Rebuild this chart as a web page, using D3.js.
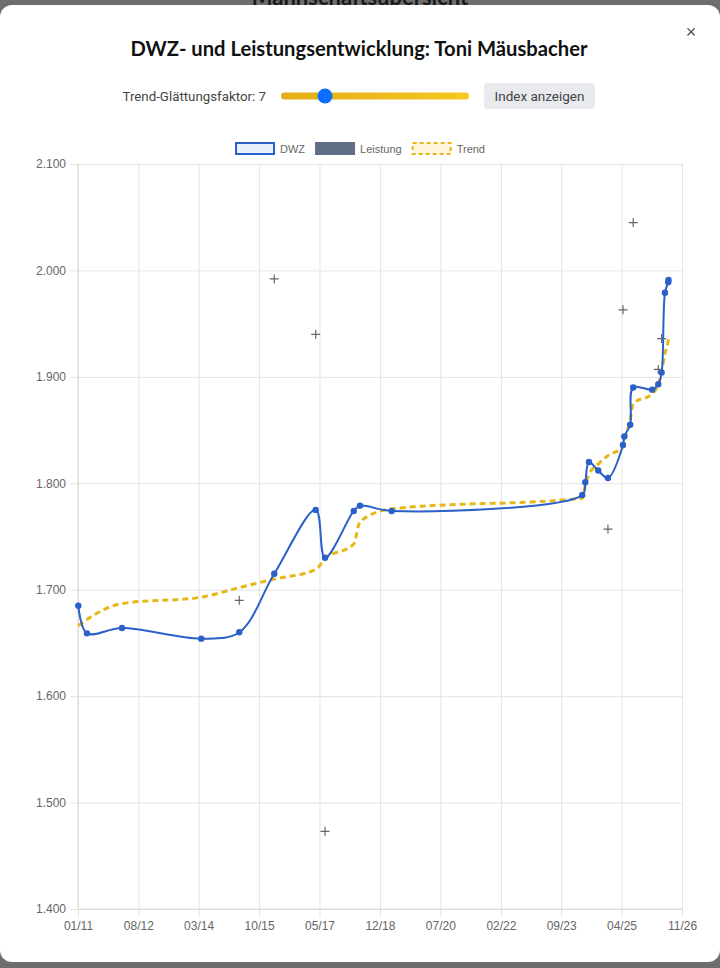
<!DOCTYPE html>
<html>
  <head>
    <meta charset="utf-8">
    <style>
      html, body {
        margin: 0;
        padding: 0;
        background-color: #6e6e6e;
        overflow: hidden;
      }
      svg { display: block; }
      .tick text { font-family: "Liberation Sans", Arial, sans-serif; font-size: 12px; fill: #666; }
    </style>
  </head>
  <body>
    <svg width="720" height="968"></svg>
    <script src="https://d3js.org/d3.v7.min.js"></script>
    <script>
    // DWZ history (Chart.js style modal)
    var dates = ["2011-01-04","2011-03-28","2012-02-26","2014-03-26","2015-03-25","2016-02-23",
                 "2017-03-26","2017-06-23","2018-03-25","2018-05-24","2019-03-23","2024-03-21",
                 "2024-04-19","2024-05-24","2024-08-21","2024-11-22","2025-04-15","2025-04-28",
                 "2025-06-23","2025-07-22","2026-01-20","2026-03-19","2026-04-20","2026-05-22",
                 "2026-06-22","2026-06-25"];
    var dwz = [1685,1659,1664,1654,1660,1715,1775,1730,1774,1779,1774,1789,
               1801,1820,1812,1805,1836,1844,1855,1890,1888,1893,1904,1979,1989,1991];
    var trend = [1666,1672,1687,1693,1702,1710,1719,1729,1743,1764,1776,1786,
                 1798,1808,1818,1826,1834,1840,1860,1875,1884,1893,1905,1922,1934,1936];

    var leistungDates = ["2015-03-25","2016-02-23","2017-03-26","2017-06-23","2024-11-22",
                         "2025-04-15","2025-07-22","2026-03-19","2026-04-20"];
    var leistung = [1690,1992,1940,1473,1757,1963,2045,1907,1936];

    var xTickLabels = ["01/11","08/12","03/14","10/15","05/17","12/18","07/20","02/22","09/23","04/25","11/26"];
    var yTicks = [1400,1500,1600,1700,1800,1900,2000,2100];

    var parseDay = d3.timeParse("%Y-%m-%d"),
        parseTick = d3.timeParse("%m/%y"),
        de = d3.formatLocale({decimal: ",", thousands: ".", grouping: [3], currency: ["", " €"]}),
        fmt = de.format(",.0f");

    var svg = d3.select("svg");

    // backdrop page title peeking out above the modal
    svg.append("text")
        .attr("x", 360).attr("y", 5)
        .attr("text-anchor", "middle")
        .style("font-family", "Lato, sans-serif").style("font-weight", 700).style("font-size", "22px")
        .attr("fill", "#1a1a1a")
        .text("Mannschaftsübersicht");

    // modal
    svg.append("rect")
        .attr("x", 0).attr("y", 5).attr("width", 720).attr("height", 957)
        .attr("rx", 12).attr("fill", "#fff");

    svg.append("text")
        .attr("x", 691).attr("y", 38)
        .attr("text-anchor", "middle")
        .style("font-family", "Liberation Sans, Arial, sans-serif").style("font-size", "18px")
        .attr("fill", "#555")
        .text("×");

    svg.append("text")
        .attr("x", 359).attr("y", 56)
        .attr("text-anchor", "middle")
        .style("font-family", "Lato, sans-serif").style("font-weight", 700).style("font-size", "20.2px")
        .attr("fill", "#111")
        .text("DWZ- und Leistungsentwicklung: Toni Mäusbacher");

    // controls row
    svg.append("text")
        .attr("x", 266).attr("y", 101)
        .attr("text-anchor", "end")
        .style("font-family", "Roboto, sans-serif").style("font-size", "13.3px")
        .attr("fill", "#444")
        .text("Trend-Glättungsfaktor: 7");

    var grad = svg.append("defs").append("linearGradient").attr("id", "track");
    grad.append("stop").attr("offset", "0%").attr("stop-color", "#e3ae12");
    grad.append("stop").attr("offset", "100%").attr("stop-color", "#f5c823");

    svg.append("rect")
        .attr("x", 281).attr("y", 92.5).attr("width", 188).attr("height", 7)
        .attr("rx", 3.5).attr("fill", "url(#track)");
    svg.append("circle")
        .attr("cx", 325).attr("cy", 96).attr("r", 7.5)
        .attr("fill", "#0d6efd");

    svg.append("rect")
        .attr("x", 484).attr("y", 83).attr("width", 111).attr("height", 26)
        .attr("rx", 4).attr("fill", "#e9eaed");
    svg.append("text")
        .attr("x", 539.5).attr("y", 101)
        .attr("text-anchor", "middle")
        .style("font-family", "Roboto, sans-serif").style("font-size", "13.5px")
        .attr("fill", "#444")
        .text("Index anzeigen");

    // chart
    var x = d3.scaleTime().domain([parseTick("01/11"), parseTick("11/26")]).range([78, 682]),
        y = d3.scaleLinear().domain([1400, 2100]).range([909, 164]);

    var g = svg.append("g");

    g.append("g")
        .attr("class", "x axis")
        .attr("transform", "translate(0,909)")
        .call(d3.axisBottom(x)
            .tickValues(xTickLabels.map(parseTick))
            .tickFormat(d3.timeFormat("%m/%y"))
            .tickSizeInner(-745).tickSizeOuter(0).tickPadding(12))
        .call(function(a) {
            a.select(".domain").remove();
            a.selectAll(".tick line").attr("stroke", "#e4e4e4").attr("y2", 8).attr("y1", -745);
        });

    g.append("g")
        .attr("class", "y axis")
        .attr("transform", "translate(78,0)")
        .call(d3.axisLeft(y)
            .tickValues(yTicks)
            .tickFormat(fmt)
            .tickSizeInner(-604).tickSizeOuter(0).tickPadding(12))
        .call(function(a) {
            a.select(".domain").remove();
            a.selectAll(".tick line").attr("stroke", "#e4e4e4").attr("x1", -8).attr("x2", 604);
        });

    // axis borders
    g.append("line").attr("x1", 78).attr("x2", 78).attr("y1", 164).attr("y2", 909).attr("stroke", "#d8d8d8");
    g.append("line").attr("x1", 78).attr("x2", 682).attr("y1", 909).attr("y2", 909).attr("stroke", "#d8d8d8");

    var pts = dates.map(function(d, i) { return {date: parseDay(d), dwz: dwz[i], trend: trend[i]}; });
    var lp = leistungDates.map(function(d, i) { return {date: parseDay(d), value: leistung[i]}; });

    // Leistung crosses
    g.selectAll(".cross")
        .data(lp)
      .enter().append("path")
        .attr("class", "cross")
        .attr("transform", function(d) { return "translate(" + x(d.date) + "," + y(d.value) + ")"; })
        .attr("d", "M-4.5,0H4.5M0,-4.5V4.5")
        .attr("stroke", "#666").attr("stroke-width", 1.2);

    // trend
    g.append("path")
        .datum(pts)
        .attr("fill", "none")
        .attr("stroke", "#e5b817")
        .attr("stroke-width", 3)
        .attr("stroke-dasharray", "6,4")
        .attr("d", d3.line()
            .curve(d3.curveMonotoneX)
            .x(function(d) { return x(d.date); })
            .y(function(d) { return y(d.trend); }));

    // DWZ
    g.append("path")
        .datum(pts)
        .attr("fill", "none")
        .attr("stroke", "#2a60c8")
        .attr("stroke-width", 2)
        .attr("d", d3.line()
            .curve(d3.curveCatmullRom.alpha(0.5))
            .x(function(d) { return x(d.date); })
            .y(function(d) { return y(d.dwz); }));

    g.selectAll(".dot")
        .data(pts)
      .enter().append("circle")
        .attr("class", "dot")
        .attr("cx", function(d) { return x(d.date); })
        .attr("cy", function(d) { return y(d.dwz); })
        .attr("r", 3.2)
        .attr("fill", "#2a60c8");

    // legend
    var legendItems = [
        {label: "DWZ", fill: "#e8f0fd", stroke: "#2a60c8", dash: null},
        {label: "Leistung", fill: "#5f6e86", stroke: "#5f6e86", dash: null},
        {label: "Trend", fill: "#fdf6dc", stroke: "#e5b817", dash: "4,3"}
    ];
    var legend = svg.append("g").attr("transform", "translate(0,142)");
    var items = legend.selectAll("g").data(legendItems).enter().append("g");
    items.append("text")
        .attr("x", 45).attr("y", 10.5)
        .style("font-family", "Liberation Sans, Arial, sans-serif").style("font-size", "11px")
        .attr("fill", "#666")
        .text(function(d) { return d.label; });
    var widths = [];
    items.each(function() { widths.push(45 + d3.select(this).select("text").node().getComputedTextLength()); });
    var total = d3.sum(widths) + 10 * (widths.length - 1), cx = 360 - total / 2;
    items.attr("transform", function(d, i) {
        var off = cx + d3.sum(widths.slice(0, i)) + 10 * i;
        return "translate(" + off + ",0)";
    });
    items.append("rect")
        .attr("x", 1).attr("y", 1).attr("width", 38).attr("height", 11)
        .attr("fill", function(d) { return d.fill; })
        .attr("stroke", function(d) { return d.stroke; })
        .attr("stroke-width", 2)
        .attr("stroke-dasharray", function(d) { return d.dash; });
    </script>
  </body>
</html>
